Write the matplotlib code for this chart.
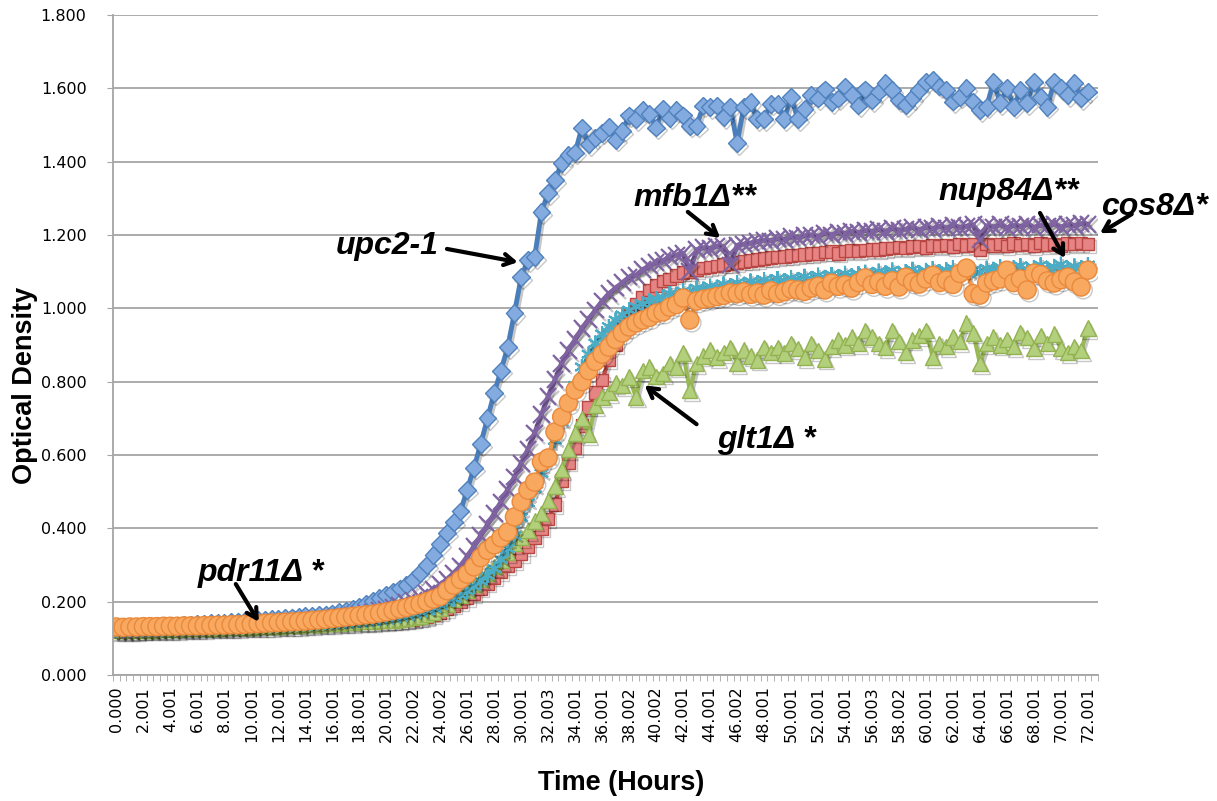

import matplotlib
matplotlib.use('Agg')
import numpy as np
import matplotlib.pyplot as plt
import matplotlib.patheffects as pe

# tick labels on the time axis (one every 4 readings, 0.5 h apart)
time_labels = ['0.000', '2.001', '4.001', '6.001', '8.001', '10.001', '12.001',
               '14.001', '16.001', '18.001', '20.001', '22.002', '24.002',
               '26.001', '28.001', '30.001', '32.003', '34.001', '36.001',
               '38.002', '40.002', '42.001', '44.001', '46.002', '48.001',
               '50.001', '52.001', '54.001', '56.003', '58.002', '60.001',
               '62.001', '64.001', '66.001', '68.001', '70.001', '72.001']

# optical density, 145 readings per strain
upc2 = [0.128, 0.127, 0.128, 0.129, 0.130, 0.131, 0.132, 0.133, 0.134, 0.135,
        0.136, 0.137, 0.139, 0.140, 0.141, 0.142, 0.143, 0.145, 0.146, 0.147,
        0.148, 0.150, 0.151, 0.152, 0.154, 0.155, 0.157, 0.158, 0.160, 0.161,
        0.163, 0.165, 0.168, 0.171, 0.175, 0.180, 0.186, 0.193, 0.201, 0.210,
        0.218, 0.226, 0.236, 0.246, 0.259, 0.278, 0.300, 0.328, 0.357, 0.388,
        0.418, 0.446, 0.505, 0.565, 0.630, 0.700, 0.769, 0.830, 0.894, 0.987,
        1.085, 1.132, 1.140, 1.263, 1.314, 1.350, 1.396, 1.418, 1.425, 1.493,
        1.447, 1.465, 1.479, 1.495, 1.460, 1.484, 1.526, 1.516, 1.540, 1.530,
        1.493, 1.544, 1.520, 1.540, 1.526, 1.498, 1.498, 1.553, 1.549, 1.553,
        1.521, 1.549, 1.451, 1.549, 1.563, 1.516, 1.516, 1.558, 1.558, 1.516,
        1.577, 1.516, 1.544, 1.581, 1.572, 1.597, 1.563, 1.572, 1.605, 1.581,
        1.553, 1.597, 1.567, 1.591, 1.614, 1.595, 1.567, 1.554, 1.573, 1.595,
        1.618, 1.623, 1.605, 1.595, 1.564, 1.577, 1.600, 1.564, 1.541, 1.550,
        1.618, 1.560, 1.600, 1.550, 1.595, 1.560, 1.618, 1.577, 1.550, 1.618,
        1.600, 1.582, 1.614, 1.573, 1.591]

cos8 = [0.120, 0.119, 0.120, 0.121, 0.121, 0.122, 0.123, 0.123, 0.124, 0.125,
        0.125, 0.126, 0.126, 0.127, 0.128, 0.128, 0.129, 0.129, 0.130, 0.131,
        0.131, 0.132, 0.133, 0.133, 0.134, 0.135, 0.136, 0.136, 0.137, 0.138,
        0.139, 0.140, 0.141, 0.142, 0.143, 0.144, 0.144, 0.145, 0.145, 0.146,
        0.147, 0.148, 0.149, 0.150, 0.152, 0.155, 0.159, 0.164, 0.171, 0.180,
        0.190, 0.200, 0.210, 0.222, 0.236, 0.250, 0.266, 0.282, 0.298, 0.312,
        0.330, 0.350, 0.375, 0.400, 0.425, 0.465, 0.530, 0.580, 0.620, 0.680,
        0.730, 0.770, 0.804, 0.860, 0.900, 0.945, 0.985, 1.010, 1.030, 1.050,
        1.062, 1.075, 1.080, 1.090, 1.098, 1.100, 1.105, 1.110, 1.113, 1.115,
        1.120, 1.122, 1.125, 1.128, 1.130, 1.133, 1.136, 1.138, 1.140, 1.142,
        1.144, 1.145, 1.147, 1.149, 1.150, 1.153, 1.155, 1.150, 1.157, 1.158,
        1.156, 1.159, 1.161, 1.160, 1.163, 1.165, 1.167, 1.164, 1.168, 1.170,
        1.166, 1.172, 1.170, 1.173, 1.168, 1.175, 1.171, 1.174, 1.160, 1.176,
        1.172, 1.175, 1.170, 1.177, 1.173, 1.176, 1.171, 1.178, 1.174, 1.176,
        1.172, 1.177, 1.175, 1.178, 1.176]

glt1 = [0.122, 0.121, 0.122, 0.122, 0.123, 0.123, 0.124, 0.124, 0.125, 0.125,
        0.126, 0.126, 0.127, 0.127, 0.128, 0.128, 0.129, 0.130, 0.130, 0.131,
        0.131, 0.132, 0.133, 0.133, 0.134, 0.135, 0.135, 0.136, 0.137, 0.138,
        0.139, 0.140, 0.141, 0.142, 0.143, 0.144, 0.145, 0.146, 0.147, 0.148,
        0.149, 0.150, 0.152, 0.154, 0.156, 0.160, 0.165, 0.172, 0.181, 0.192,
        0.205, 0.218, 0.232, 0.246, 0.262, 0.278, 0.295, 0.312, 0.335, 0.358,
        0.375, 0.395, 0.420, 0.440, 0.475, 0.515, 0.560, 0.615, 0.660, 0.700,
        0.655, 0.735, 0.758, 0.770, 0.796, 0.790, 0.813, 0.758, 0.830, 0.840,
        0.815, 0.823, 0.850, 0.840, 0.878, 0.777, 0.850, 0.870, 0.886, 0.867,
        0.880, 0.894, 0.850, 0.886, 0.870, 0.859, 0.894, 0.880, 0.894, 0.878,
        0.905, 0.890, 0.867, 0.905, 0.885, 0.862, 0.895, 0.914, 0.900, 0.922,
        0.905, 0.940, 0.922, 0.905, 0.894, 0.940, 0.910, 0.880, 0.914, 0.925,
        0.940, 0.867, 0.905, 0.895, 0.922, 0.910, 0.960, 0.933, 0.850, 0.905,
        0.922, 0.900, 0.915, 0.895, 0.935, 0.920, 0.890, 0.925, 0.905, 0.930,
        0.890, 0.880, 0.895, 0.885, 0.946]

mfb1 = [0.125, 0.124, 0.125, 0.126, 0.126, 0.127, 0.128, 0.128, 0.129, 0.130,
        0.130, 0.131, 0.132, 0.132, 0.133, 0.134, 0.135, 0.135, 0.136, 0.137,
        0.138, 0.139, 0.140, 0.141, 0.142, 0.143, 0.144, 0.146, 0.147, 0.149,
        0.150, 0.152, 0.154, 0.157, 0.160, 0.163, 0.166, 0.169, 0.172, 0.176,
        0.180, 0.185, 0.191, 0.197, 0.204, 0.212, 0.222, 0.233, 0.246, 0.261,
        0.278, 0.297, 0.323, 0.351, 0.380, 0.410, 0.440, 0.472, 0.505, 0.540,
        0.577, 0.615, 0.660, 0.710, 0.760, 0.805, 0.850, 0.885, 0.915, 0.945,
        0.970, 0.995, 1.020, 1.040, 1.055, 1.070, 1.085, 1.090, 1.105, 1.115,
        1.125, 1.130, 1.140, 1.145, 1.150, 1.100, 1.160, 1.165, 1.163, 1.170,
        1.168, 1.118, 1.172, 1.175, 1.178, 1.182, 1.186, 1.184, 1.190, 1.188,
        1.195, 1.192, 1.198, 1.200, 1.196, 1.205, 1.200, 1.208, 1.204, 1.210,
        1.206, 1.212, 1.209, 1.215, 1.210, 1.218, 1.213, 1.216, 1.220, 1.214,
        1.222, 1.217, 1.224, 1.219, 1.226, 1.221, 1.224, 1.228, 1.186, 1.225,
        1.222, 1.228, 1.220, 1.226, 1.223, 1.229, 1.221, 1.227, 1.224, 1.230,
        1.222, 1.228, 1.225, 1.231, 1.229]

nup84 = [0.124, 0.124, 0.125, 0.125, 0.126, 0.126, 0.127, 0.127, 0.128, 0.128,
         0.129, 0.129, 0.130, 0.130, 0.131, 0.131, 0.132, 0.132, 0.133, 0.134,
         0.134, 0.135, 0.136, 0.137, 0.138, 0.138, 0.139, 0.140, 0.141, 0.142,
         0.143, 0.144, 0.145, 0.146, 0.147, 0.148, 0.150, 0.151, 0.153, 0.155,
         0.157, 0.159, 0.162, 0.165, 0.169, 0.173, 0.178, 0.184, 0.191, 0.199,
         0.208, 0.218, 0.229, 0.242, 0.256, 0.272, 0.290, 0.315, 0.345, 0.380,
         0.430, 0.470, 0.510, 0.550, 0.590, 0.640, 0.690, 0.740, 0.790, 0.840,
         0.875, 0.905, 0.930, 0.950, 0.968, 0.982, 0.995, 1.005, 1.012, 1.020,
         1.026, 1.030, 1.040, 1.038, 1.047, 1.044, 1.055, 1.052, 1.060, 1.057,
         1.066, 1.061, 1.070, 1.065, 1.074, 1.069, 1.078, 1.072, 1.081, 1.075,
         1.083, 1.078, 1.087, 1.081, 1.090, 1.084, 1.092, 1.086, 1.095, 1.089,
         1.094, 1.098, 1.090, 1.101, 1.096, 1.104, 1.093, 1.100, 1.106, 1.097,
         1.103, 1.108, 1.099, 1.105, 1.110, 1.102, 1.112, 1.104, 1.098, 1.109,
         1.106, 1.113, 1.101, 1.110, 1.116, 1.104, 1.111, 1.118, 1.107, 1.114,
         1.120, 1.108, 1.115, 1.111, 1.118]

pdr11 = [0.131, 0.130, 0.131, 0.131, 0.132, 0.132, 0.132, 0.133, 0.133, 0.133,
         0.134, 0.134, 0.134, 0.135, 0.135, 0.136, 0.136, 0.137, 0.137, 0.138,
         0.139, 0.140, 0.141, 0.142, 0.143, 0.144, 0.145, 0.146, 0.147, 0.149,
         0.150, 0.152, 0.154, 0.156, 0.158, 0.160, 0.162, 0.164, 0.166, 0.169,
         0.172, 0.176, 0.180, 0.184, 0.189, 0.194, 0.200, 0.207, 0.214, 0.230,
         0.245, 0.260, 0.275, 0.295, 0.320, 0.340, 0.355, 0.374, 0.390, 0.431,
         0.472, 0.504, 0.526, 0.581, 0.592, 0.663, 0.704, 0.742, 0.777, 0.800,
         0.830, 0.855, 0.875, 0.894, 0.915, 0.933, 0.949, 0.960, 0.968, 0.975,
         0.987, 0.990, 1.003, 1.010, 1.028, 0.968, 1.020, 1.025, 1.028, 1.032,
         1.035, 1.042, 1.040, 1.045, 1.038, 1.042, 1.036, 1.048, 1.040, 1.045,
         1.052, 1.050, 1.046, 1.055, 1.060, 1.050, 1.069, 1.060, 1.064, 1.055,
         1.070, 1.083, 1.065, 1.072, 1.060, 1.075, 1.058, 1.085, 1.072, 1.066,
         1.080, 1.090, 1.070, 1.077, 1.065, 1.095, 1.110, 1.040, 1.036, 1.069,
         1.075, 1.080, 1.104, 1.070, 1.080, 1.050, 1.096, 1.092, 1.075, 1.069,
         1.078, 1.085, 1.072, 1.058, 1.104]

x = np.arange(len(upc2))

fig = plt.figure(figsize=(12.17, 8.01), dpi=100)
ax = fig.add_axes([113/1217, 1-675/801, 985/1217, 660/801])

# soft drop shadow under every series
shadow = [pe.SimpleLineShadow(offset=(1.5, -2), shadow_color='black', alpha=0.22),
          pe.Normal()]

# series in drawing order, last one ends up on top
styles = [
    (upc2, dict(color='#4A7EBB', lw=3.5, marker='D', ms=9, mfc='#84ABE0', mec='#4F81BD', mew=1)),
    (cos8, dict(color='#BE4B48', lw=3, marker='s', ms=9, mfc='#E58482', mec='#B84643', mew=1)),
    (glt1, dict(color='#98B954', lw=3, marker='^', ms=11, mfc='#B2CF7B', mec='#93B251', mew=1)),
    (mfb1, dict(color='#7D60A0', lw=3.5, marker='x', ms=12, mec='#8064A2', mew=1.6)),
    (nup84, dict(color='#4BACC6', lw=2.5, marker=(6, 2, 0), ms=11, mec='#4BACC6', mew=1.5)),
    (pdr11, dict(color='#F79646', lw=3, marker='o', ms=13, mfc='#F9A860', mec='#E9893C', mew=1)),
]
for y, kw in styles:
    ax.plot(x, y, path_effects=shadow, **kw)

ax.set_xlim(-0.5, 145.5)
ax.set_ylim(0, 1.8)

ax.set_yticks(np.arange(0, 1.81, 0.2))
ax.set_yticklabels(['%.3f' % v for v in np.arange(0, 1.81, 0.2)])
ax.yaxis.grid(True, color='#A5A5A5', lw=1.3)
ax.set_axisbelow(True)

ax.set_xticks(x[::4])
ax.set_xticklabels(time_labels, rotation=90)
ax.set_xticks(np.arange(-0.5, 145.6, 1), minor=True)
ax.tick_params(axis='x', which='major', length=0, pad=8, labelsize=11.5)
ax.tick_params(axis='x', which='minor', length=4, color='#A5A5A5', direction='out')
ax.tick_params(axis='y', length=4.5, color='#A5A5A5', pad=14.5, labelsize=11.5)

for s in ['top', 'right']:
    ax.spines[s].set_visible(False)
for s in ['left', 'bottom']:
    ax.spines[s].set_color('#A5A5A5')
    ax.spines[s].set_linewidth(1.3)

ax.set_ylabel('Optical Density', fontsize=19.5, fontweight='bold',
              family='Liberation Sans')
ax.yaxis.set_label_coords(-0.089, 0.439)
ax.yaxis.label.set_va('center')
ax.set_xlabel('Time (Hours)', fontsize=19.5, fontweight='bold',
              family='Liberation Sans')
ax.xaxis.set_label_coords(0.516, -0.164)
ax.xaxis.label.set_va('center')

# strain labels, each with its own arrow
names = ['upc2-1', 'mfb1\u0394**', 'nup84\u0394**', 'cos8\u0394*',
         'glt1\u0394 *', 'pdr11\u0394 *']
label_pos = [(40.1, 1.170), (85.8, 1.300), (132.2, 1.317), (153.9, 1.276),
             (96.3, 0.641), (21.4, 0.278)]
arrow_from = [(49.0, 1.162), (84.7, 1.263), (136.9, 1.260), (150.5, 1.257),
              (86.0, 0.684), (17.7, 0.248)]
arrow_to = [(59.5, 1.126), (89.5, 1.192), (140.6, 1.137), (145.8, 1.205),
            (78.3, 0.790), (21.1, 0.145)]

arrow = dict(arrowstyle='->, head_length=0.7, head_width=0.4', lw=3,
             color='black', shrinkA=0, shrinkB=0)
for name, pos, a, b in zip(names, label_pos, arrow_from, arrow_to):
    ax.text(pos[0], pos[1], name, ha='center', va='center', fontsize=23,
            fontweight='bold', fontstyle='italic', family='Liberation Sans',
            clip_on=False)
    ax.annotate('', xy=b, xytext=a, arrowprops=arrow, annotation_clip=False)

fig.savefig('out.png', dpi=100)
